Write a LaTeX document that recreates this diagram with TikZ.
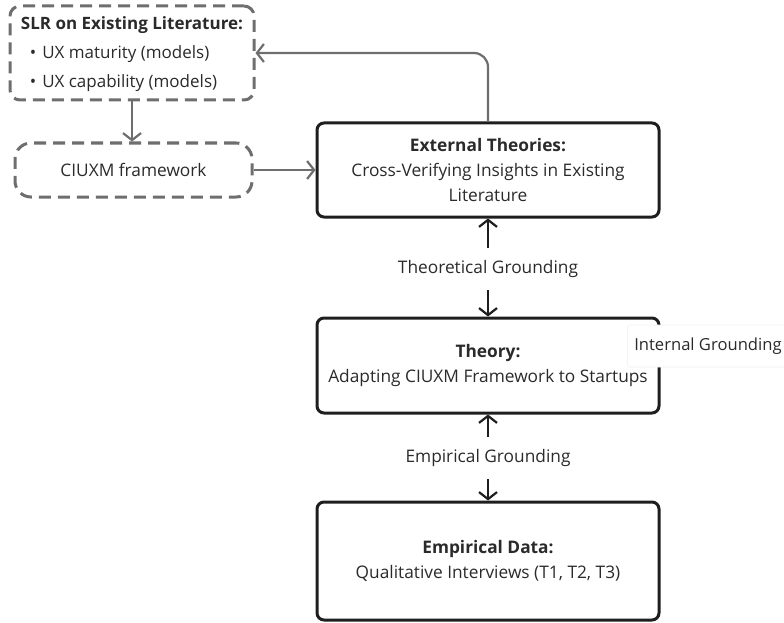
\documentclass[tikz,border=0pt]{standalone}
\usepackage{fontspec}
\setmainfont{Open Sans}
\usetikzlibrary{arrows.meta}
\definecolor{ink}{HTML}{1E1E1E}
\definecolor{txt}{HTML}{2A2A2A}
\definecolor{dashgray}{HTML}{6E6E6E}
\tikzset{
  x=1pt, y=-1pt,
  every node/.style={font=\fontsize{17.3}{25}\selectfont, text=txt},
  solidbox/.style={draw=ink, line width=3pt, rounded corners=7pt, align=center, inner sep=0pt},
  dashbox/.style={draw=dashgray, line width=3pt, dash pattern=on 12pt off 7pt, rounded corners=10pt, inner sep=0pt},
  lbl/.style={inner xsep=2pt, inner ysep=0pt, minimum height=42pt},
  darrow/.style={draw=ink, line width=2.2pt, -{Straight Barb[length=7pt,width=18pt,line width=2.2pt]}},
  garrow/.style={draw=dashgray, line width=2.2pt, -{Straight Barb[length=7pt,width=18pt,line width=2.2pt]}},
}
\begin{document}
\begin{tikzpicture}
\useasboundingbox (0,0) rectangle (784,623);

% literature sources (dashed)
\node[dashbox, minimum width=244pt, minimum height=94pt, font=\fontsize{17}{28}\selectfont] (slr) at (132,53)
  {\begin{tabular}{@{}l@{}}\multicolumn{1}{@{}c@{}}{\textbf{SLR on Existing Literature:}}\\[1pt]
   \hspace{9pt}•\hspace{6pt}UX maturity (models)\\[1pt]
   \hspace{9pt}•\hspace{6pt}UX capability (models)\end{tabular}};
\node[dashbox, rounded corners=16pt, minimum width=237pt, minimum height=54pt] (ciuxm) at (133.5,170)
  {CIUXM framework};

% main column
\node[solidbox, minimum width=342pt, minimum height=94pt] (ext) at (488,170)
  {\textbf{External Theories:}\\ Cross-Verifying Insights in Existing\\ Literature};
\node[solidbox, minimum width=342pt, minimum height=95pt] (theory) at (488,365.5)
  {\textbf{Theory:}\\ Adapting CIUXM Framework to Startups};
\node[solidbox, minimum width=342pt, minimum height=118pt] (emp) at (488,561)
  {\textbf{Empirical Data:}\\ Qualitative Interviews (T1, T2, T3)};

% grounding labels
\node[lbl] (tg) at (488,269) {Theoretical Grounding};
\node[lbl] (eg) at (488,458) {Empirical Grounding};
\node[fill=white, draw=black!6, line width=0.6pt, rounded corners=2pt, minimum width=160pt, minimum height=42pt, inner xsep=0pt, anchor=west, font=\fontsize{16.6}{25}\selectfont] (ig) at (627,346)
  {\makebox[160pt][l]{\hspace{7pt}Internal Grounding}};

% connectors
\draw[garrow] (slr.south) -- (slr.south |- ciuxm.north);
\draw[garrow] (ciuxm.east) -- (ext.west);
\draw[garrow, rounded corners=14pt] (ext.north) |- (slr.east);
\draw[darrow] (tg.north) -- (ext.south);
\draw[darrow] (tg.south) -- (theory.north);
\draw[darrow] (eg.north) -- (theory.south);
\draw[darrow] (eg.south) -- (emp.north);
\end{tikzpicture}
\end{document}
